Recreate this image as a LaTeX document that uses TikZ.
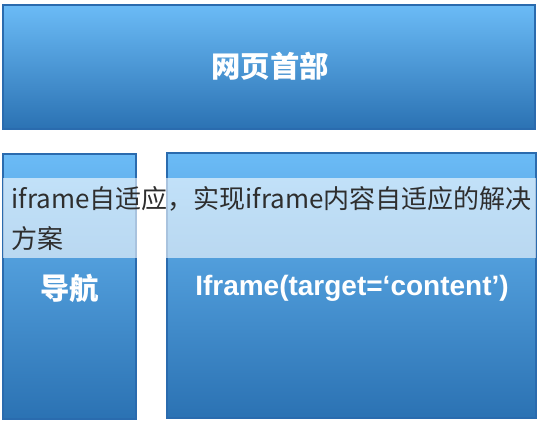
\documentclass[tikz,border=0pt]{standalone}
\usepackage{fontspec}
\setmainfont{Liberation Sans}
\newfontfamily\cjk{Noto Sans CJK SC}

\definecolor{paneltop}{HTML}{6BBBF6}
\definecolor{panelbottom}{HTML}{2B72B3}
\definecolor{panelline}{HTML}{2A6BAE}
\definecolor{captiontext}{HTML}{2E2E2E}

\tikzset{every picture/.style={line width=0.75pt}}
\tikzset{
  panel/.style={draw=panelline, line width=1pt, top color=paneltop, bottom color=panelbottom},
  boxtitle/.style={text=white, inner sep=0.75pt},
}

\begin{document}
\begin{tikzpicture}[x=0.75pt,y=0.75pt,yscale=-1,xscale=1]
\useasboundingbox (0,0) rectangle (540,423);

%Shape: Rectangle [header]
\draw [panel] (3,5) rectangle (535,129) ;
%Shape: Rectangle [nav]
\draw [panel] (3,154) rectangle (136,419) ;
%Shape: Rectangle [iframe]
\draw [panel] (167,153) rectangle (536,418) ;

%Shape: Rectangle [caption band]
\fill [white, fill opacity=0.6] (3,178) rectangle (536,258) ;

% Text Node
\draw (270,66) node (header) [boxtitle, font=\cjk\bfseries\fontsize{22}{26}\selectfont] {网页首部};
% Text Node
\draw (70,288) node (nav) [boxtitle, font=\cjk\bfseries\fontsize{22}{26}\selectfont] {导航};
% Text Node
\draw (352,288) node (frame) [boxtitle, font=\bfseries\fontsize{21}{26}\selectfont] {Iframe(target=‘content’)};
% Text Node
\draw (10,219) node (caption) [anchor=west, inner sep=0.75pt, align=left, text=captiontext, font=\cjk\fontsize{19.5}{30}\selectfont] {iframe自适应，实现iframe内容自适应的解决\\方案};

\end{tikzpicture}
\end{document}
